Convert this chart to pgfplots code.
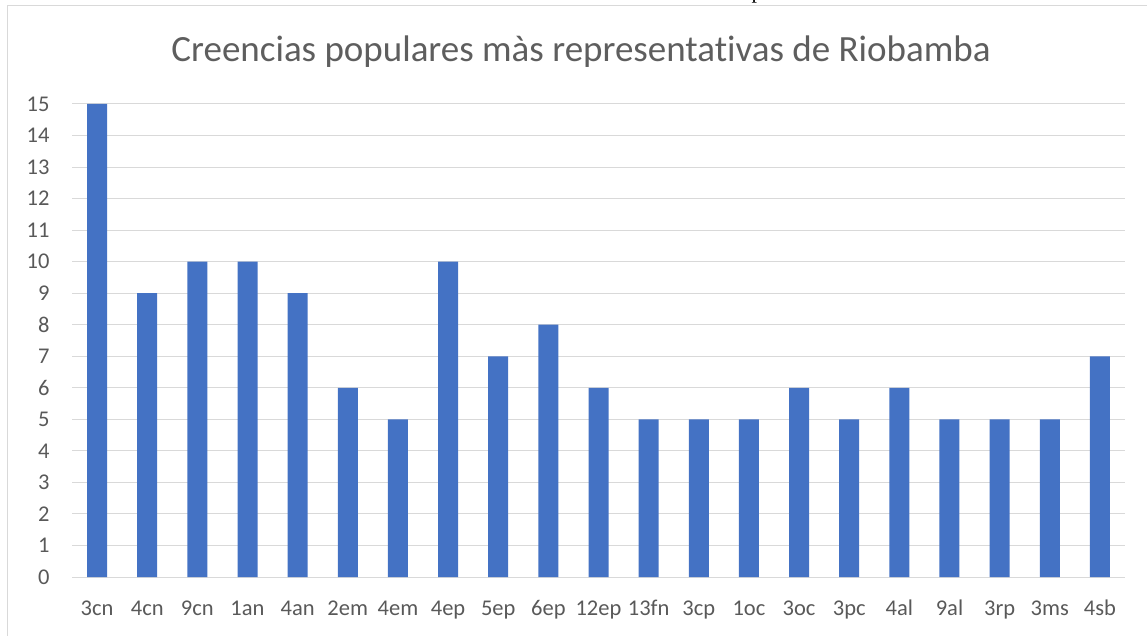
\documentclass[border=0pt]{standalone}
\usepackage{pgfplots}
\pgfplotsset{compat=1.18}
\usepackage{fontspec}
\setmainfont{Carlito}[Ligatures={NoCommon}]
\newfontfamily\seriffont{Liberation Serif}
\definecolor{barblue}{HTML}{4472C4}
\definecolor{gridgray}{HTML}{D9D9D9}
\definecolor{txtgray}{HTML}{595959}
\definecolor{titlegray}{HTML}{5E5E5E}
\begin{document}
\begin{tikzpicture}
\useasboundingbox (0pt,0pt) rectangle (1147pt,635pt);
\begin{scope}
\clip (0pt,0pt) rectangle (1147pt,635pt);
\node[anchor=base, inner sep=0pt, font=\seriffont\fontsize{22}{26}\selectfont] at (757pt,636pt) {p};
\draw[gridgray, line width=1.2pt] (7.5pt,-5pt) -- (7.5pt,629.5pt) -- (1160pt,629.5pt);
\end{scope}
\node[anchor=base, inner sep=0pt, text=titlegray, font=\fontsize{37}{44}\selectfont] at (581pt,573pt) {Creencias populares màs representativas de Riobamba};
\begin{axis}[
  name=ax,
  at={(72pt,58pt)}, anchor=south west,
  scale only axis, width=1053pt, height=473pt,
  xmin=-0.5, xmax=20.5, ymin=0, ymax=15,
  ybar, bar width=20pt, bar shift=0pt,
  axis line style={draw=none},
  major tick length=0pt,
  ymajorgrids, grid style={gridgray, line width=1pt},
  ytick={0,1,...,15},
  xtick={0,1,...,20},
  xticklabels={3cn,4cn,9cn,1an,4an,2em,4em,4ep,5ep,6ep,12ep,13fn,3cp,1oc,3oc,3pc,4al,9al,3rp,3ms,4sb},
  tick label style={text=txtgray, font=\fontsize{22.5}{27}\selectfont},
  /pgf/number format/assume math mode=true,
  yticklabel style={anchor=east, xshift=-19pt},
  xticklabel style={anchor=base, yshift=-38pt},
]
\addplot[fill=barblue, draw=none] coordinates {
(0,15) (1,9) (2,10) (3,10) (4,9) (5,6) (6,5) (7,10) (8,7) (9,8) (10,6)
(11,5) (12,5) (13,5) (14,6) (15,5) (16,6) (17,5) (18,5) (19,5) (20,7)};
\end{axis}
\end{tikzpicture}
\end{document}
